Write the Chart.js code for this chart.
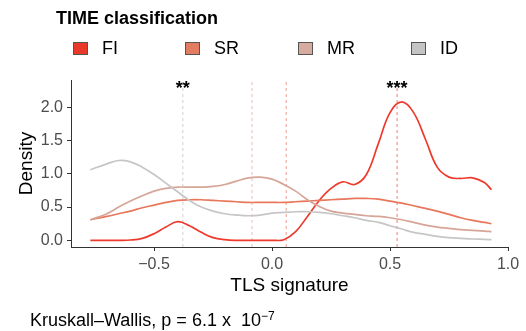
<!DOCTYPE html>
<html>
<head>
<meta charset="utf-8">
<script src="https://cdn.jsdelivr.net/npm/chart.js@4.4.1/dist/chart.umd.min.js"></script>
<style>
  html, body { margin: 0; padding: 0; background: #fff; }
  #wrap { position: relative; width: 526px; height: 331px; font-family: "Liberation Sans", Arial, Helvetica, sans-serif; color: #000; }
  #chart { position: absolute; left: 0; top: 0; }
  .lg-title { position: absolute; left: 56px; top: 8px; font-size: 18px; line-height: 20px; font-weight: bold; white-space: nowrap; }
  .lg-item { position: absolute; top: 38px; font-size: 18px; line-height: 20px; white-space: nowrap; }
  .lg-box { position: absolute; top: 4px; width: 13px; height: 11px; border: 1px solid #555; }
  .lg-item span.txt { position: absolute; top: 0; }
  .note { position: absolute; left: 30px; top: 310px; font-size: 18px; line-height: 20px; white-space: nowrap; }
  .note sup { font-size: 12px; position: relative; top: -4px; vertical-align: top; }
</style>
</head>
<body>
<div id="wrap">
  <canvas id="chart" width="526" height="331"></canvas>
  <div class="lg-title">TIME classification</div>
  <div id="legend"></div>
  <div class="note">Kruskall&#8211;Wallis, p = 6.1 x &nbsp;10<sup>&#8722;7</sup></div>
</div>
<script>
const xs = [-0.77, -0.70, -0.65, -0.60, -0.55, -0.50, -0.45, -0.40, -0.35, -0.30, -0.25, -0.20,
            -0.15, -0.10, -0.05, 0.00, 0.05, 0.10, 0.15, 0.20, 0.25, 0.30, 0.35, 0.40,
            0.45, 0.50, 0.55, 0.60, 0.65, 0.70, 0.75, 0.80, 0.85, 0.90, 0.93];

const fiValues = [0.00, 0.00, 0.00, 0.005, 0.03, 0.10, 0.20, 0.28, 0.22, 0.12, 0.04, 0.01,
                  0.00, 0.00, 0.00, 0.00, 0.01, 0.13, 0.36, 0.60, 0.78, 0.88, 0.84, 0.99,
                  1.45, 1.92, 2.08, 1.92, 1.52, 1.10, 0.95, 0.93, 0.94, 0.87, 0.76];
const srValues = [0.31, 0.36, 0.40, 0.44, 0.49, 0.53, 0.57, 0.60, 0.61, 0.61, 0.60, 0.59,
                  0.58, 0.57, 0.57, 0.57, 0.57, 0.58, 0.59, 0.60, 0.61, 0.62, 0.63, 0.63,
                  0.62, 0.59, 0.56, 0.52, 0.48, 0.44, 0.39, 0.34, 0.30, 0.27, 0.25];
const mrValues = [0.31, 0.40, 0.50, 0.59, 0.67, 0.74, 0.78, 0.80, 0.80, 0.80, 0.81, 0.84,
                  0.89, 0.94, 0.95, 0.92, 0.84, 0.74, 0.61, 0.51, 0.44, 0.41, 0.39, 0.37,
                  0.36, 0.34, 0.31, 0.27, 0.23, 0.20, 0.18, 0.16, 0.15, 0.14, 0.13];
const idValues = [1.06, 1.15, 1.20, 1.18, 1.10, 0.99, 0.86, 0.73, 0.60, 0.50, 0.44, 0.40,
                  0.38, 0.37, 0.38, 0.41, 0.42, 0.43, 0.43, 0.42, 0.40, 0.37, 0.34, 0.30,
                  0.27, 0.22, 0.17, 0.12, 0.09, 0.06, 0.04, 0.03, 0.02, 0.015, 0.01];

const groups = ['FI', 'SR', 'MR', 'ID'];
const groupValues = [fiValues, srValues, mrValues, idValues];
const lineColors = ['#EE3A2C', '#E8775C', '#D6A597', '#C6C6C6'];
const boxColors = ['#E8392B', '#E27D62', '#D7AB9F', '#C4C4C4'];
const dashColors = ['rgba(238,80,60,0.75)', 'rgba(232,120,95,0.7)', 'rgba(214,150,135,0.6)', 'rgba(190,190,190,0.7)'];

// group medians (dashed verticals) and significance marks
const medians = [0.53, 0.06, -0.085, -0.378];
const starX = [-0.378, 0.53];
const starText = ['**', '***'];
const starY = 2.20;

const xTicks = [-0.5, 0, 0.5, 1.0];
const yTicks = [0, 0.5, 1.0, 1.5, 2.0];

// html legend
const legendX = [73, 185, 298, 411];
const legend = document.getElementById('legend');
groups.forEach((g, i) => {
    const item = document.createElement('div');
    item.className = 'lg-item';
    item.style.left = legendX[i] + 'px';
    item.innerHTML = '<div class="lg-box" style="left:0;background:' + boxColors[i] + '"></div>' +
                     '<span class="txt" style="left:29px">' + g + '</span>';
    legend.appendChild(item);
});

const datasets = [];
groups.forEach((g, i) => {
    datasets.push({
        label: g,
        data: xs.map((x, j) => ({ x: x, y: groupValues[i][j] })),
        borderColor: lineColors[i],
        borderWidth: 1.7,
        pointRadius: 0,
        tension: 0.4,
        fill: false,
        order: 4 - i
    });
});
medians.forEach((m, i) => {
    datasets.push({
        label: groups[i] + ' median',
        data: [{ x: m, y: -0.1 }, { x: m, y: 2.41 }],
        borderColor: dashColors[i],
        borderWidth: 1,
        borderDash: [3, 3],
        pointRadius: 0,
        fill: false,
        order: 5
    });
});

const starPlugin = {
    id: 'stars',
    afterDatasetsDraw(chart) {
        const { ctx, scales } = chart;
        ctx.save();
        ctx.font = 'bold 18px "Liberation Sans", Arial, sans-serif';
        ctx.fillStyle = '#000';
        ctx.textAlign = 'center';
        ctx.textBaseline = 'alphabetic';
        starX.forEach((x, i) => {
            ctx.fillText(starText[i], scales.x.getPixelForValue(x), scales.y.getPixelForValue(starY));
        });
        ctx.restore();
    }
};

const fontFamily = '"Liberation Sans", Arial, sans-serif';
const ctx = document.getElementById('chart').getContext('2d');
new Chart(ctx, {
    type: 'line',
    data: { datasets: datasets },
    options: {
        responsive: false,
        animation: false,
        devicePixelRatio: 1,
        layout: { padding: { left: 0, right: 18, top: 80, bottom: 34 } },
        plugins: {
            legend: { display: false },
            tooltip: { enabled: false }
        },
        scales: {
            x: {
                type: 'linear',
                min: -0.852,
                max: 1.0,
                afterBuildTicks: s => { s.ticks = xTicks.map(v => ({ value: v })); },
                afterFit: s => { s.height = 50; },
                grid: { display: true, drawOnChartArea: false, drawTicks: true, tickLength: 4, color: '#333' },
                border: { display: true, color: '#333', width: 1 },
                ticks: {
                    padding: 4,
                    color: '#4D4D4D',
                    font: { size: 16, family: fontFamily },
                    callback: v => v.toFixed(1).replace('-', '\u2212')
                },
                title: {
                    display: true,
                    text: 'TLS signature',
                    color: '#000',
                    font: { size: 19, family: fontFamily },
                    padding: { top: 0, bottom: 0 }
                }
            },
            y: {
                type: 'linear',
                min: -0.1,
                max: 2.41,
                afterBuildTicks: s => { s.ticks = yTicks.map(v => ({ value: v })); },
                afterFit: s => { s.width = 71; },
                grid: { display: true, drawOnChartArea: false, drawTicks: true, tickLength: 4, color: '#333' },
                border: { display: true, color: '#333', width: 1 },
                ticks: {
                    padding: 4,
                    color: '#4D4D4D',
                    font: { size: 16, family: fontFamily },
                    callback: v => v.toFixed(1)
                },
                title: {
                    display: true,
                    text: 'Density',
                    color: '#000',
                    font: { size: 19, family: fontFamily },
                    padding: { top: 15, bottom: 0 }
                }
            }
        }
    },
    plugins: [starPlugin]
});
</script>
</body>
</html>
